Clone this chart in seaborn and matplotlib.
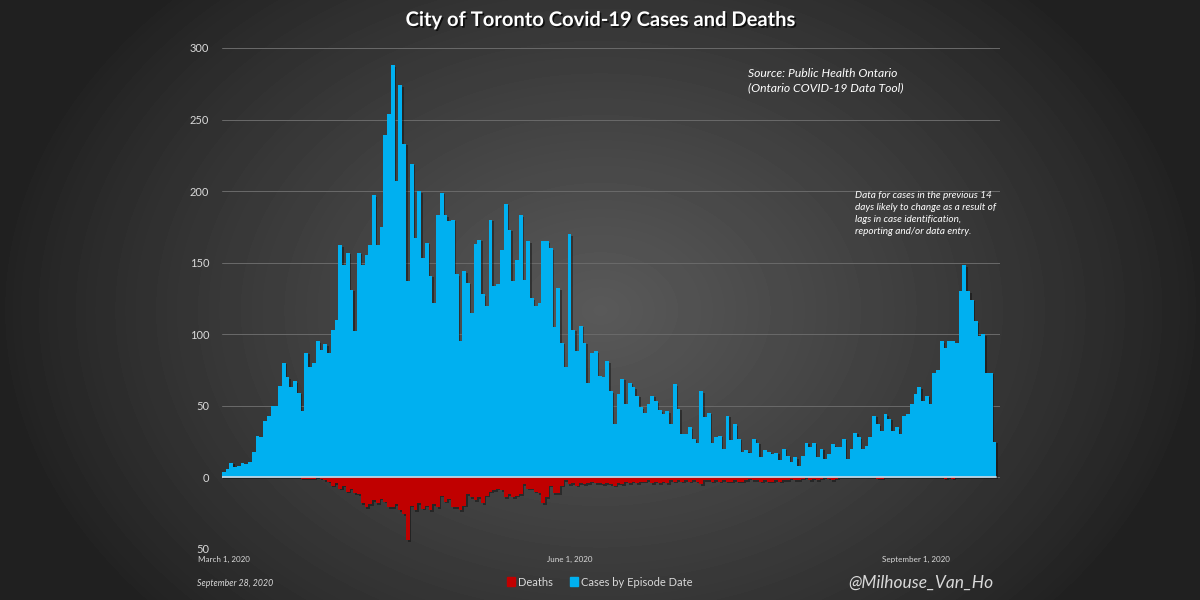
# -*- coding: utf-8 -*-
"""
    City of Toronto daily Covid-19 cases (up) and deaths (down), March - September 2020
"""

import numpy as np
import pandas as pd
import matplotlib.pyplot as plt
import matplotlib.patheffects as pe
from matplotlib.patches import Patch
from matplotlib.ticker import FuncFormatter
import seaborn as sns


# daily cases by episode date, starting March 1, 2020
cases = [
    4, 6, 10, 7, 8, 10, 9, 11, 18, 29,
    28, 39, 43, 50, 50, 64, 80, 70, 63, 67,
    59, 46, 87, 77, 80, 95, 89, 93, 87, 103,
    110, 162, 148, 157, 131, 102, 157, 148, 155, 162,
    197, 162, 175, 239, 254, 288, 207, 274, 233, 137,
    219, 167, 200, 153, 164, 141, 122, 183, 199, 183,
    179, 180, 142, 95, 144, 136, 115, 163, 166, 128,
    120, 180, 134, 135, 159, 191, 173, 137, 152, 183,
    138, 165, 125, 120, 122, 165, 165, 160, 105, 132,
    94, 77, 170, 103, 88, 106, 94, 66, 87, 88,
    71, 70, 81, 60, 37, 58, 69, 51, 66, 63,
    57, 49, 45, 51, 57, 53, 47, 44, 46, 37,
    65, 48, 30, 30, 35, 27, 24, 60, 42, 45,
    24, 28, 29, 20, 43, 26, 37, 27, 18, 19,
    17, 27, 24, 14, 19, 18, 16, 17, 12, 20,
    15, 11, 14, 8, 15, 24, 21, 24, 14, 20,
    13, 16, 23, 21, 21, 27, 13, 20, 31, 28,
    20, 22, 28, 43, 37, 32, 44, 41, 32, 35,
    30, 43, 44, 51, 58, 63, 53, 57, 51, 73,
    75, 95, 90, 95, 95, 94, 130, 148, 130, 124,
    109, 99, 100, 73, 73, 25,
]

# daily deaths, same days
deaths = [
    0, 0, 0, 0, 0, 0, 0, 0, 0, 0,
    0, 0, 0, 0, 0, 0, 0, 0, 0, 0,
    0, 1, 1, 1, 1, 0, 1, 2, 3, 6,
    4, 8, 6, 10, 8, 11, 12, 18, 21, 19,
    16, 18, 15, 17, 21, 21, 19, 23, 26, 44,
    20, 23, 18, 22, 20, 23, 19, 21, 13, 17,
    15, 21, 21, 23, 20, 12, 14, 16, 14, 18,
    13, 10, 9, 8, 9, 14, 12, 14, 13, 12,
    5, 8, 8, 10, 11, 18, 14, 6, 11, 11,
    6, 2, 5, 4, 6, 4, 5, 4, 3, 4,
    4, 5, 4, 5, 6, 4, 5, 3, 4, 3,
    4, 3, 3, 2, 4, 3, 4, 3, 4, 2,
    3, 2, 3, 2, 3, 2, 3, 5, 2, 2,
    3, 2, 3, 2, 3, 3, 2, 3, 3, 2,
    1, 2, 2, 3, 2, 3, 3, 2, 3, 2,
    2, 1, 2, 2, 1, 0, 2, 1, 2, 1,
    0, 1, 2, 1, 0, 0, 0, 0, 0, 0,
    0, 0, 0, 0, 1, 1, 0, 0, 0, 0,
    0, 0, 0, 0, 0, 0, 0, 0, 0, 0,
    0, 0, 1, 0, 1, 0, 0, 0, 0, 0,
    0, 0, 0, 0, 0, 0,
]

start_date = "2020-03-01"
tick_dates = ["2020-03-01", "2020-06-01", "2020-09-01"]
tick_labels = ["March 1, 2020", "June 1, 2020", "September 1, 2020"]

CASE_COL = "#00b0f0"
DEATH_COL = "#c00000"
TXT = "#d9d9d9"


dates = pd.date_range(start_date, periods=len(cases), freq="D")
df = pd.DataFrame({"day": np.arange(len(cases)), "cases": cases, "deaths": [-d for d in deaths]})
long_df = df.melt(id_vars="day", var_name="series", value_name="count")

sns.set_theme(style="dark")
plt.rcParams["font.family"] = ["Lato", "DejaVu Sans"]

fig = plt.figure(figsize=(12, 6), dpi=100)

# radial grey background
bg = fig.add_axes([0, 0, 1, 1], zorder=-10)
yy, xx = np.mgrid[0:600, 0:1200]
r = np.sqrt(((xx - 600) / 600.0) ** 2 + ((yy - 310) / 450.0) ** 2)
shade = 0.13 + 0.22 * np.clip(1 - r, 0, 1) ** 0.9
bg.imshow(shade, cmap="gray", vmin=0, vmax=1, aspect="auto", interpolation="bilinear")
bg.axis("off")

ax = fig.add_axes([0.1848, 0.0853, 0.6486, 0.8347])
ax.patch.set_alpha(0)

sns.barplot(data=long_df, x="day", y="count", hue="series",
            palette={"cases": CASE_COL, "deaths": DEATH_COL}, saturation=1,
            dodge=False, width=1, linewidth=0, errorbar=None, legend=False, ax=ax)

shadow = [pe.SimplePatchShadow(offset=(1.1, -1.1), shadow_rgbFace="black", alpha=0.38), pe.Normal()]
for p in ax.patches:
    p.set_path_effects(shadow)

ax.set_xlim(-0.5, len(cases) + 0.5)
ax.set_ylim(-50, 300)

# gridlines + zero line
ax.set_yticks(range(-50, 301, 50))
ax.yaxis.grid(True, color="#6a6a6a", lw=0.7)
ax.xaxis.grid(False)
ax.set_axisbelow(True)
ax.axhline(0, xmin=0, xmax=len(cases) / (len(cases) + 1.0), color="#bcd6e6", lw=1.3, zorder=6)

ax.yaxis.set_major_formatter(FuncFormatter(lambda v, pos: f"{abs(int(v))}"))
tick_pos = [dates.get_loc(pd.Timestamp(d)) for d in tick_dates]
ax.set_xticks(tick_pos)
ax.set_xticklabels(tick_labels)
ax.tick_params(axis="y", colors=TXT, labelsize=8, length=0, pad=9)
ax.tick_params(axis="x", colors=TXT, labelsize=5.8, length=0, pad=5)
ax.set_xlabel(None)
ax.set_ylabel(None)
for s in ax.spines.values():
    s.set_visible(False)

# texts
fig.text(0.5, 1 - 20 / 600, "City of Toronto Covid-19 Cases and Deaths", ha="center", va="center",
         fontsize=14.5, fontweight="bold", color="white",
         path_effects=[pe.withSimplePatchShadow(offset=(1.2, -1.2), shadow_rgbFace="black", alpha=0.7)])
fig.text(748 / 1200, 1 - 68 / 600, "Source: Public Health Ontario\n(Ontario COVID-19 Data Tool)",
         ha="left", va="top", fontsize=8.7, style="italic", color="white", linespacing=1.35)
fig.text(855 / 1200, 1 - 191 / 600,
         "Data for cases in the previous 14\ndays likely to change as a result of\n"
         "lags in case identification,\nreporting and/or data entry.",
         ha="left", va="top", fontsize=7.2, style="italic", color="white", linespacing=1.45)
fig.text(197 / 1200, 1 - 583 / 600, "September 28, 2020", ha="left", va="center",
         fontsize=6.3, style="italic", color=TXT)
fig.text(848 / 1200, 1 - 583 / 600, "@Milhouse_Van_Ho", ha="left", va="center",
         fontsize=12.5, style="italic", color=TXT)

handles = [Patch(color=DEATH_COL, label="Deaths"), Patch(color=CASE_COL, label="Cases by Episode Date")]
fig.legend(handles=handles, loc="center", bbox_to_anchor=(0.5, 1 - 582 / 600), ncol=2, frameon=False,
           fontsize=8, labelcolor=TXT, handlelength=0.7, handleheight=0.8, handletextpad=0.3,
           columnspacing=1.5)

fig.savefig("out.png", dpi=100)
